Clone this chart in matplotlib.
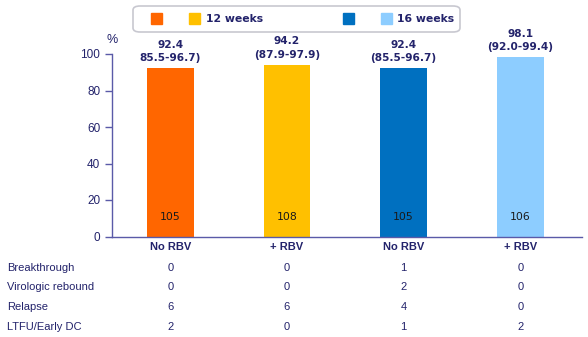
import matplotlib
matplotlib.use("Agg")
import matplotlib.pyplot as plt
from matplotlib.patches import FancyBboxPatch, Rectangle
from matplotlib.transforms import blended_transform_factory, offset_copy

# data
groups = ["No RBV", "+ RBV", "No RBV", "+ RBV"]
svr = [92.4, 94.2, 92.4, 98.1]
ci_labels = ["85.5-96.7)", "(87.9-97.9)", "(85.5-96.7)", "(92.0-99.4)"]
n_patients = [105, 108, 105, 106]
colors = ["#FF6600", "#FFC000", "#0070C0", "#8DCDFF"]
row_names = ["Breakthrough", "Virologic rebound", "Relapse", "LTFU/Early DC"]
breakthrough = [0, 0, 1, 0]
rebound = [0, 0, 2, 0]
relapse = [6, 6, 4, 0]
ltfu = [2, 0, 1, 2]
legend_labels = ["12 weeks", "16 weeks"]

NAVY = "#23236B"
AXIS = "#5A5AA8"
W, H = 588, 337

fig = plt.figure(figsize=(W / 100, H / 100), dpi=100)
ax = fig.add_axes([112 / W, 1 - 236.5 / H, 470 / W, 182.5 / H])

x = list(range(len(groups)))
ax.bar(x, svr, width=0.4, color=colors, zorder=2)
ax.set_xlim(-0.5, 3.53)
ax.set_ylim(0, 100)
ax.set_yticks([0, 20, 40, 60, 80, 100])
ax.tick_params(axis="y", colors=AXIS, labelcolor=NAVY, labelsize=8.5, length=5, width=1)
ax.set_xticks([])
for s in ["top", "right"]:
    ax.spines[s].set_visible(False)
for s in ["left", "bottom"]:
    ax.spines[s].set_color(AXIS)
    ax.spines[s].set_linewidth(1)
for lab in ax.get_yticklabels():
    lab.set_family("Liberation Sans")

ax.text(0.0, 1.0, "%", transform=offset_copy(ax.transAxes, fig=fig, y=14, units="dots"),
        ha="center", va="center", color=NAVY, fontsize=9, family="Liberation Sans")

# value + CI labels above bars
for xi, v, ci, n in zip(x, svr, ci_labels, n_patients):
    ax.text(xi, v + 5.5, ci, ha="center", va="center", color=NAVY, fontsize=7.6,
            fontweight="bold", family="DejaVu Sans")
    ax.text(xi, v + 12.7, f"{v}", ha="center", va="center", color=NAVY,
            fontsize=7.6, fontweight="bold", family="DejaVu Sans")
    ax.text(xi, 10.7, str(n), ha="center", va="center", color="#1A1A1A",
            fontsize=7.8, family="DejaVu Sans")

# category labels and table below
tr = blended_transform_factory(ax.transData, fig.transFigure)
for xi, g in zip(x, groups):
    ax.text(xi, 1 - 247.5 / H, g, transform=tr, ha="center", va="center",
            color=NAVY, fontsize=8, fontweight="bold", family="Liberation Sans")

rows = [breakthrough, rebound, relapse, ltfu]
row_y = [268, 287.5, 307, 327]
for name, vals, py in zip(row_names, rows, row_y):
    fy = 1 - py / H
    fig.text(7 / W, fy, name, ha="left", va="center", color=NAVY,
             fontsize=8, family="Liberation Sans")
    for xi, v in zip(x, vals):
        ax.text(xi, fy, str(v), transform=tr, ha="center", va="center",
                color=NAVY, fontsize=8, family="Liberation Sans")

# legend box
box = FancyBboxPatch((133 / W, 1 - 32 / H), 327 / W, 26 / H,
                     boxstyle="round,pad=0,rounding_size=0.012",
                     transform=fig.transFigure, facecolor="white",
                     edgecolor="#C8C8D0", linewidth=1.2)
fig.patches.append(box)
sq_w, sq_h = 11 / W, 11 / H
sq_y = 1 - 24 / H
for px, c in zip([151, 189, 343, 381], colors):
    fig.patches.append(Rectangle((px / W, sq_y), sq_w, sq_h,
                                 transform=fig.transFigure, color=c))
for px, lab in zip([206, 397], legend_labels):
    fig.text(px / W, 1 - 18.5 / H, lab, ha="left", va="center", color=NAVY,
             fontsize=7.8, fontweight="bold", family="DejaVu Sans")

fig.savefig("out.png", dpi=100)
